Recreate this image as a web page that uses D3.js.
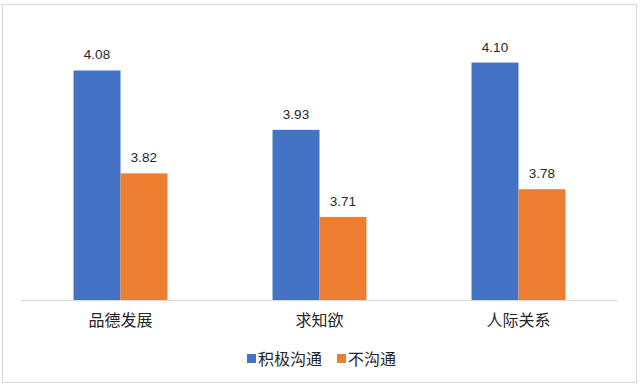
<!DOCTYPE html>
<html>
<head>
<meta charset="utf-8">
<script src="https://cdn.jsdelivr.net/npm/d3@7"></script>
<style>
  body { margin: 0; background: #fff; }
  text { font-family: "Noto Sans CJK SC", "Liberation Sans", sans-serif; fill: #262626; }
  .num { font-family: "Liberation Sans", sans-serif; font-size: 13.5px; }
</style>
</head>
<body>
<svg id="svg" width="640" height="387"></svg>
<script>
const categories = ["品德发展", "求知欲", "人际关系"];
const seriesNames = ["积极沟通", "不沟通"];
const positive = [4.08, 3.93, 4.10];
const negative = [3.82, 3.71, 3.78];
const colors = ["#4472C4", "#ED7D31"];

const svg = d3.select("#svg");

// outer frame
svg.append("rect")
  .attr("x", 2.5).attr("y", 4.5)
  .attr("width", 634).attr("height", 378)
  .attr("fill", "none").attr("stroke", "#d9d9d9");

const x0 = d3.scaleBand()
  .domain(categories)
  .range([21, 618])
  .paddingInner(0.528)
  .paddingOuter(0.264);

const x1 = d3.scaleBand()
  .domain(seriesNames)
  .range([0, x0.bandwidth()]);

const y = d3.scaleLinear().domain([3.5, 4.2]).range([300, 23]);

const rows = categories.map((c, i) => ({
  cat: c,
  vals: [
    { s: seriesNames[0], v: positive[i] },
    { s: seriesNames[1], v: negative[i] }
  ]
}));

const groups = svg.selectAll("g.grp")
  .data(rows)
  .enter()
  .append("g")
  .attr("class", "grp")
  .attr("transform", (d) => `translate(${x0(d.cat)},0)`);

groups.selectAll("rect")
  .data((d) => d.vals)
  .enter()
  .append("rect")
  .attr("x", (d) => x1(d.s))
  .attr("y", (d) => y(d.v))
  .attr("width", x1.bandwidth())
  .attr("height", (d) => y(3.5) - y(d.v))
  .attr("fill", (d, i) => colors[i]);

groups.selectAll("text")
  .data((d) => d.vals)
  .enter()
  .append("text")
  .attr("class", "num")
  .attr("x", (d) => x1(d.s) + x1.bandwidth() / 2)
  .attr("y", (d) => y(d.v) - 11)
  .attr("text-anchor", "middle")
  .text((d) => d.v.toFixed(2));

// x axis
const xAxis = svg.append("g")
  .attr("transform", `translate(0,${y(3.5)})`)
  .call(d3.axisBottom(x0).tickSize(0).tickPadding(15));
xAxis.select(".domain").attr("stroke", "#d9d9d9").attr("d", "M21,0.5H618");
xAxis.selectAll("text")
  .attr("font-family", "Noto Sans CJK SC")
  .attr("font-size", 16)
  .attr("fill", "#262626");

// legend
const legend = svg.append("g");
const legendX = [247, 337];
seriesNames.forEach((s, i) => {
  legend.append("rect")
    .attr("x", legendX[i]).attr("y", 354)
    .attr("width", 9).attr("height", 9)
    .attr("fill", colors[i]);
  legend.append("text")
    .attr("x", legendX[i] + 11)
    .attr("y", 364.5)
    .attr("font-size", 16)
    .text(s);
});
</script>
</body>
</html>
